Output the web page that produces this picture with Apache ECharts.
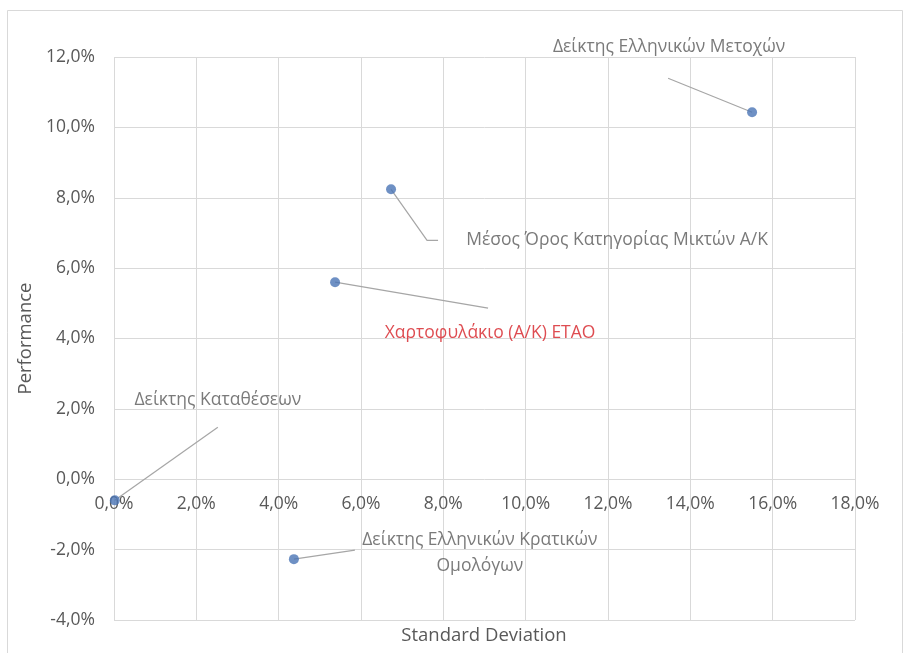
<!DOCTYPE html>
<html>
<head>
  <meta charset="utf-8">
  <title>Performance / Standard Deviation</title>
  <style>
    html, body { margin: 0; padding: 0; background: #fff; }
    #chart { width: 910px; height: 653px; }
  </style>
</head>
<body>
  <div id="chart"></div>
  <script src="https://cdn.jsdelivr.net/npm/echarts@6/dist/echarts.min.js"></script>
  <script>
  // ονόματα σημείων και τιμές (%)
  const names = [
    'Δείκτης Ελληνικών Μετοχών',
    'Μέσος Όρος Κατηγορίας Μικτών Α/Κ',
    'Χαρτοφυλάκιο (Α/Κ) ΕΤΑΟ',
    'Δείκτης Καταθέσεων',
    'Δείκτης Ελληνικών Κρατικών\nΟμολόγων'
  ];
  const stdDev = [15.5, 6.73, 5.37, 0.02, 4.37];
  const performance = [10.43, 8.24, 5.6, -0.6, -2.27];

  // θέση ετικέτας και γραμμής οδηγού (px από το σημείο)
  const labelColors = ['#595959', '#595959', '#d61f26', '#595959', '#595959'];
  const labelOffsets = [[-83, -65], [226, 51], [155, 51], [103, -100], [186, -6]];
  const leaderOffsets = [
    [[-84, -34]],
    [[36, 51], [47, 51]],
    [[153, 26]],
    [[103, -73]],
    [[61, -9]]
  ];

  const xMin = 0, xMax = 18, xStep = 2;
  const yMin = -4, yMax = 12, yStep = 2;

  const pct = v => v.toFixed(1).replace('.', ',') + '%';
  const font = '"Open Sans", "Noto Sans", sans-serif';
  const gray = '#595959';
  const lineGray = '#d9d9d9';

  const points = stdDev.map((x, i) => [x, performance[i]]);

  // ο άξονας Χ περνά από το 0 του άξονα Υ: δεύτερο grid που τελειώνει εκεί
  const H = 653, gTop = 57, gBottom = 33;
  const zeroBottom = gBottom + (H - gTop - gBottom) * (0 - yMin) / (yMax - yMin);

  const chart = echarts.init(document.getElementById('chart'));
  chart.setOption({
    backgroundColor: '#fff',
    animation: false,
    graphic: [{
      type: 'rect',
      shape: { x: 7.5, y: 10.5, width: 895, height: 660 },
      style: { fill: 'none', stroke: lineGray, lineWidth: 1 }
    }, {
      type: 'text',
      x: 484, y: 636,
      style: {
        text: 'Standard Deviation',
        fill: gray,
        font: '18.5px ' + font,
        textAlign: 'center',
        textVerticalAlign: 'middle'
      }
    }],
    grid: [
      { left: 114, right: 55, top: gTop, bottom: gBottom },
      { left: 114, right: 55, top: gTop, bottom: zeroBottom }
    ],
    xAxis: [{
      type: 'value',
      min: xMin, max: xMax, interval: xStep,
      axisLine: { show: false },
      axisTick: { show: false },
      axisLabel: { show: false },
      splitLine: { lineStyle: { color: lineGray } }
    }, {
      type: 'value',
      gridIndex: 1,
      min: xMin, max: xMax, interval: xStep,
      axisLine: { show: false },
      axisTick: { show: false },
      axisLabel: { formatter: pct, color: gray, fontSize: 17.5, fontFamily: font, margin: 16 },
      splitLine: { show: false }
    }],
    yAxis: [{
      type: 'value',
      min: yMin, max: yMax, interval: yStep,
      name: 'Performance',
      nameLocation: 'middle',
      nameGap: 72,
      nameTextStyle: { color: gray, fontSize: 18.5, fontFamily: font },
      axisLine: { show: false },
      axisTick: { show: false },
      axisLabel: { formatter: pct, color: gray, fontSize: 17.5, fontFamily: font, margin: 19 },
      splitLine: { lineStyle: { color: lineGray } }
    }, {
      type: 'value',
      gridIndex: 1,
      show: false
    }],
    series: [{
      // γραμμές οδηγοί των ετικετών
      type: 'custom',
      silent: true,
      z: 1,
      data: points,
      renderItem: (params, api) => {
        const p = api.coord([api.value(0), api.value(1)]);
        const pts = [p].concat(leaderOffsets[params.dataIndex].map(o => [p[0] + o[0], p[1] + o[1]]));
        return {
          type: 'polyline',
          shape: { points: pts },
          style: { stroke: '#a6a6a6', lineWidth: 1.2, fill: 'none' }
        };
      }
    }, {
      type: 'scatter',
      z: 3,
      symbolSize: 10,
      itemStyle: { color: '#4a74b5' },
      data: names.map((n, i) => ({
        name: n,
        value: points[i],
        label: { color: labelColors[i] }
      })),
      label: {
        show: true,
        position: 'inside',
        formatter: p => p.name,
        fontSize: 17.5,
        fontFamily: font,
        align: 'center',
        lineHeight: 26
      },
      labelLayout: p => ({
        dx: labelOffsets[p.dataIndex][0],
        dy: labelOffsets[p.dataIndex][1]
      })
    }]
  });
  </script>
</body>
</html>
